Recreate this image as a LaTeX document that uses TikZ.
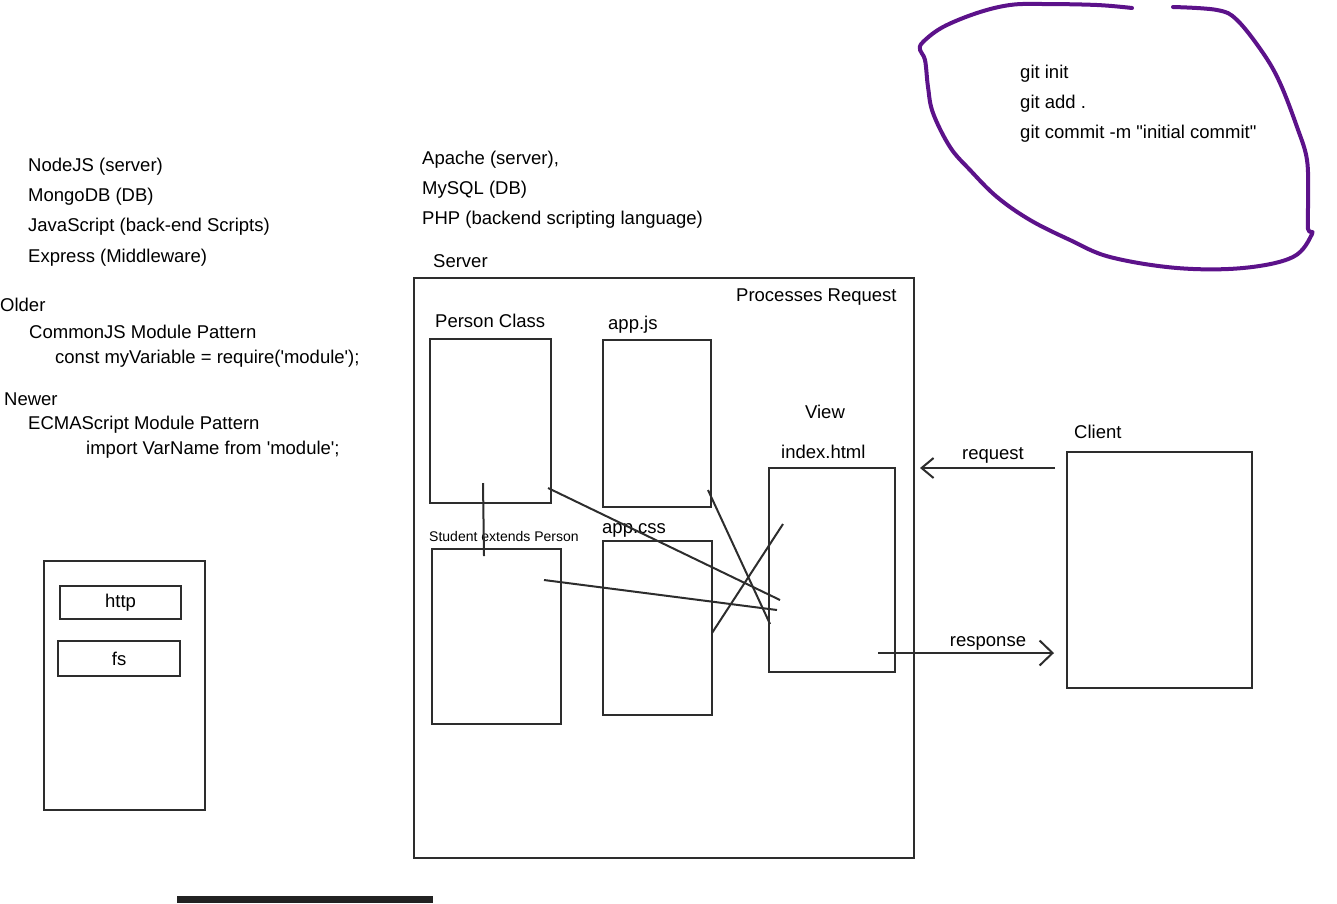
\documentclass[tikz,border=0pt]{standalone}
\usepackage{fontspec}
\newfontfamily\fnt{Liberation Sans}
\usetikzlibrary{arrows.meta}
\definecolor{ink}{RGB}{45,45,45}
\definecolor{pen}{RGB}{92,18,138}
\definecolor{bar}{RGB}{34,34,34}
\tikzset{
  txt/.style={inner sep=0pt, anchor=base west, text=black, font=\fnt\fontsize{18.5}{22}\selectfont},
  ctxt/.style={txt, anchor=base},
  smalltxt/.style={txt, font=\fnt\fontsize{14}{16}\selectfont},
  box/.style={draw=ink, line width=2.1pt, anchor=north west, inner sep=0pt},
  conn/.style={draw=ink, line width=2pt},
  arr/.style={conn, -{Straight Barb[length=12pt,width=20pt]}},
}
\begin{document}
\begin{tikzpicture}[x=1pt,y=-1pt]
\useasboundingbox (0,0) rectangle (1337,903);
% left text
\node[txt] (t1) at (28,171) {NodeJS (server)};
\node[txt] (t2) at (28,201) {MongoDB (DB)};
\node[txt] (t3) at (28,231) {JavaScript (back-end Scripts)};
\node[txt] (t4) at (28,262) {Express (Middleware)};
\node[txt] (t5) at (0,311) {Older};
\node[txt] (t6) at (29,338) {CommonJS Module Pattern};
\node[txt] (t7) at (55,363) {const myVariable = require('module');};
\node[txt] (t8) at (4,405) {Newer};
\node[txt] (t9) at (28,429) {ECMAScript Module Pattern};
\node[txt] (t10) at (86,454) {import VarName from 'module';};
% centre text
\node[txt] (a1) at (422,164) {Apache (server),};
\node[txt] (a2) at (422,194) {MySQL (DB)};
\node[txt] (a3) at (422,224) {PHP (backend scripting language)};
\node[txt] (srvlbl) at (433,267) {Server};
% server
\node[box, minimum width=500pt, minimum height=580pt] (server) at (413,277) {};
\node[txt] (proc) at (736,301) {Processes Request};
\node[txt] (personlbl) at (435,327) {Person Class};
\node[box, minimum width=121pt, minimum height=164pt] (person) at (429,338) {};
\node[txt] (appjslbl) at (608,329) {app.js};
\node[box, minimum width=108pt, minimum height=167pt] (appjs) at (602,339) {};
\node[ctxt] (viewlbl) at (825,418) {View};
\node[txt] (indexlbl) at (781,458) {index.html};
\node[box, minimum width=126pt, minimum height=204pt] (index) at (768,467) {};
\node[smalltxt] (studentlbl) at (429,541) {Student extends Person};
\node[box, minimum width=129pt, minimum height=175pt] (student) at (431,548) {};
\node[txt] (appcsslbl) at (602,533) {app.css};
\node[box, minimum width=109pt, minimum height=174pt] (appcss) at (602,540) {};
% client
\node[txt] (clientlbl) at (1074,438) {Client};
\node[box, minimum width=185pt, minimum height=236pt] (client) at (1066,451) {};
% left module box
\node[box, minimum width=161pt, minimum height=249pt] (mods) at (43,560) {};
\node[box, minimum width=121pt, minimum height=33pt] (http) at (59,585) {};
\node[ctxt, anchor=center] (httplbl) at (http.center) {http};
\node[box, minimum width=122pt, minimum height=35pt] (fs) at (57,640) {};
\node[ctxt, anchor=center] (fslbl) at (fs.center) {fs};
% connector end points
\coordinate (p1) at (483,483);
\coordinate (p2) at (484,556);
\coordinate (q1) at (548,488);
\coordinate (q2) at (780,600);
\coordinate (r1) at (708,490);
\coordinate (r2) at (770,624);
\coordinate (s1) at (544,580);
\coordinate (s2) at (777,610);
\coordinate (c1) at (712,633);
\coordinate (c2) at (783,524);
\draw[conn] (p1) -- (p2);
\draw[conn] (q1) -- (q2);
\draw[conn] (r1) -- (r2);
\draw[conn] (s1) -- (s2);
\draw[conn] (c1) -- (c2);
% request / response
\coordinate (reqs) at (1055,468);
\coordinate (reqe) at (920,468);
\draw[arr] (reqs) -- (reqe);
\node[ctxt] (reqlbl) at (993,459) {request};
\coordinate (ress) at (878,653);
\coordinate (rese) at (1054,653);
\draw[conn, -{Straight Barb[length=13pt,width=25pt]}] (ress) -- (rese);
\node[ctxt] (reslbl) at (988,646) {response};
% git note
\node[txt] (g1) at (1020,78) {git init};
\node[txt] (g2) at (1020,108) {git add .};
\node[txt] (g3) at (1020,138) {git commit -m "initial commit"};
\draw[pen, line width=4pt, line cap=round, line join=round]
  plot[smooth, tension=0.6] coordinates {
  (1132,8) (1097,5) (1043,4) (1010,5) (977,13) (943,27) (923,42) (920,50)
  (925,60) (928,87) (933,113) (950,147) (970,170) (997,197) (1030,220)
  (1070,240) (1110,257) (1177,268) (1243,268) (1293,257) (1312,234)
  (1308,229) (1308,200) (1307,160) (1297,127) (1280,83) (1263,53)
  (1237,20) (1217,10) (1173,7)};
% bottom bar
\fill[bar] (177,896) rectangle (433,903);
\end{tikzpicture}
\end{document}
